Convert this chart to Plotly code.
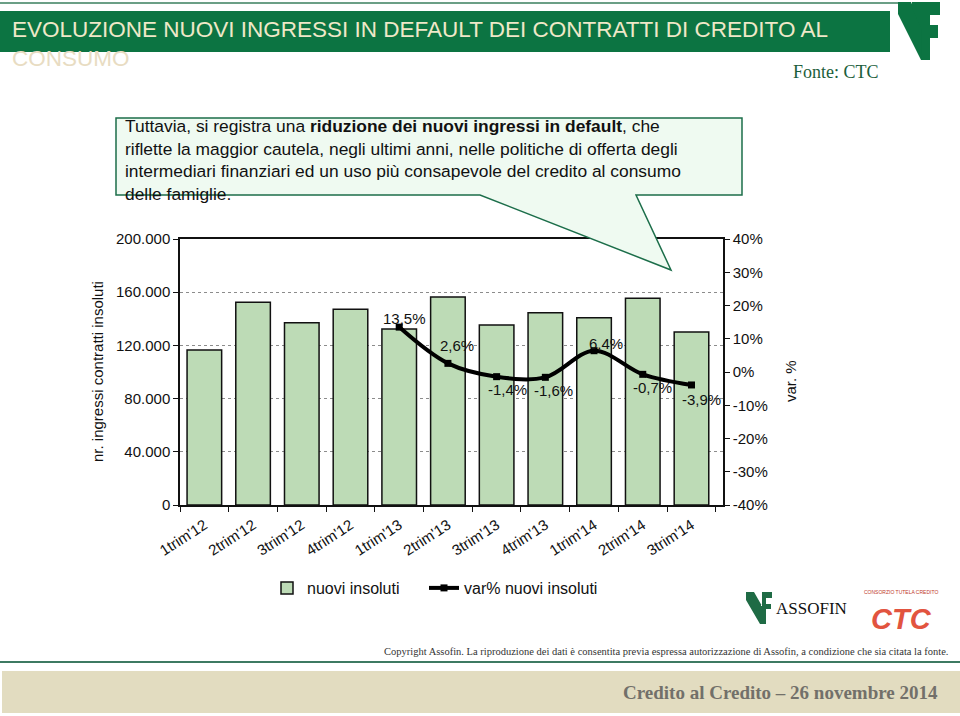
import plotly.graph_objects as go

# ---------------- data ----------------
categories = ["1trim'12", "2trim'12", "3trim'12", "4trim'12", "1trim'13", "2trim'13",
              "3trim'13", "4trim'13", "1trim'14", "2trim'14", "3trim'14"]
nuovi_insoluti = [116500, 152400, 137100, 147100, 132300, 156400,
                  135300, 144600, 140800, 155400, 130100]
var_categories = ["1trim'13", "2trim'13", "3trim'13", "4trim'13", "1trim'14", "2trim'14", "3trim'14"]
var_pct = [13.5, 2.6, -1.4, -1.6, 6.4, -0.7, -3.9]
var_labels = ["13,5%", "2,6%", "-1,4%", "-1,6%", "6,4%", "-0,7%", "-3,9%"]
left_tickvals = [0, 40000, 80000, 120000, 160000, 200000]
left_ticktext = ["0", "40.000", "80.000", "120.000", "160.000", "200.000"]
right_tickvals = [-40, -30, -20, -10, 0, 10, 20, 30, 40]
right_ticktext = ["-40%", "-30%", "-20%", "-10%", "0%", "10%", "20%", "30%", "40%"]

# label offsets (pixels) relative to each point: style only
label_dx = [5, 9, 11, 8, 12, 10, 10]
label_dy = [9, 18, -13, -13, 7, -13, -15]

W, H = 960, 716
L, R, T, B = 180, 723, 239, 505  # plot area in pixels


def X(px):
    return (px - L) / (R - L)


def Y(py):
    return (B - py) / (B - T)


GREEN = "#0c7442"
fig = go.Figure()

fig.add_trace(go.Bar(
    x=categories, y=nuovi_insoluti, name="nuovi insoluti",
    marker=dict(color="#bddbb6", line=dict(color="#111111", width=1.5)),
    width=0.71, yaxis="y", legend="legend",
))
fig.add_trace(go.Scatter(
    x=var_categories, y=var_pct, name="var% nuovi insoluti", yaxis="y2",
    mode="lines+markers", legend="legend2",
    line=dict(color="#000000", width=4, shape="spline", smoothing=1.0),
    marker=dict(symbol="square", size=7, color="#000000"),
    cliponaxis=False,
))

shapes = []
annotations = []

for cat, v, lab, dx, dy in zip(var_categories, var_pct, var_labels, label_dx, label_dy):
    annotations.append(dict(xref="x", yref="y2", x=cat, y=v, text=lab, showarrow=False,
                            xanchor="center", yanchor="middle", xshift=dx, yshift=dy,
                            font=dict(family="Arial", size=15, color="#111111")))

# top line + title banner
shapes.append(dict(type="line", xref="paper", yref="paper", x0=X(0), x1=X(898), y0=Y(3), y1=Y(3),
                   line=dict(color="#3a7f5e", width=1.5), layer="above"))
shapes.append(dict(type="rect", xref="paper", yref="paper", x0=X(0), x1=X(890), y0=Y(11), y1=Y(52),
                   fillcolor=GREEN, line=dict(width=0), layer="above"))
annotations.append(dict(xref="paper", yref="paper", x=X(10), y=Y(30), xanchor="left", yanchor="middle",
                        text="EVOLUZIONE NUOVI INGRESSI IN DEFAULT DEI CONTRATTI DI CREDITO AL",
                        showarrow=False, font=dict(family="Arial", size=22.5, color="#efe8c8")))
annotations.append(dict(xref="paper", yref="paper", x=X(10), y=Y(58), xanchor="left", yanchor="middle",
                        text="CONSUMO", showarrow=False,
                        font=dict(family="Arial", size=22.5, color="#e8dcc2")))
annotations.append(dict(xref="paper", yref="paper", x=X(881), y=Y(72), xanchor="right", yanchor="middle",
                        text="Fonte: CTC", showarrow=False,
                        font=dict(family="Liberation Serif, Times New Roman, serif", size=18, color="#1b5e3b")))


def path(pts):
    return "M " + " L ".join(f"{X(a):.5f},{Y(b):.5f}" for a, b in pts) + " Z"


# top-right logo (stylised)
shapes.append(dict(type="path", xref="paper", yref="paper", layer="above",
                   path=path([(898, 2), (911, 2), (929, 44), (929, 60), (921, 60), (898, 14)]),
                   fillcolor=GREEN, line=dict(width=0)))
shapes.append(dict(type="path", xref="paper", yref="paper", layer="above",
                   path=path([(912, 2), (940, 2), (940, 15), (930, 15), (930, 25), (938, 25),
                              (938, 38), (930, 38), (930, 60), (922, 60), (922, 30), (912, 8)]),
                   fillcolor=GREEN, line=dict(width=0)))

# callout box with pointer
shapes.append(dict(type="path", xref="paper", yref="paper", layer="above",
                   path=path([(116, 118), (742, 118), (742, 195), (636, 195), (671, 270),
                              (480, 195), (116, 195)]),
                   fillcolor="#effaf1", line=dict(color="#1c6e4a", width=1.5)))
annotations.append(dict(
    xref="paper", yref="paper", x=X(123), y=Y(114), xanchor="left", yanchor="top", align="left",
    showarrow=False, font=dict(family="Arial", size=17.4, color="#111111"),
    text=("Tuttavia, si registra una <b>riduzione dei nuovi ingressi in default</b>, che<br>"
          "riflette la maggior cautela, negli ultimi anni, nelle politiche di offerta degli<br>"
          "intermediari finanziari ed un uso più consapevole del credito al consumo<br>"
          "delle famiglie.")))

# axis titles
annotations.append(dict(xref="paper", yref="paper", x=X(97), y=Y(372), textangle=-90,
                        xanchor="center", yanchor="middle",
                        text="nr. ingressi contratti insoluti", showarrow=False,
                        font=dict(family="Arial", size=15, color="#111111")))
annotations.append(dict(xref="paper", yref="paper", x=X(790), y=Y(381), textangle=-90,
                        xanchor="center", yanchor="middle",
                        text="var. %", showarrow=False,
                        font=dict(family="Arial", size=15, color="#111111")))

# bottom logos
shapes.append(dict(type="path", xref="paper", yref="paper", layer="above",
                   path=path([(746, 592), (754, 592), (762, 606), (762, 592), (772, 592), (772, 598),
                              (766, 598), (766, 604), (771, 604), (771, 609), (766, 609), (766, 624),
                              (760, 624), (746, 600)]),
                   fillcolor="#1f6b45", line=dict(width=0)))
annotations.append(dict(xref="paper", yref="paper", x=X(774), y=Y(608), xanchor="left", yanchor="middle",
                        text="ASSOFIN", showarrow=False,
                        font=dict(family="Liberation Serif, Times New Roman, serif", size=17, color="#111111")))
annotations.append(dict(xref="paper", yref="paper", x=X(901), y=Y(619), xanchor="center", yanchor="middle",
                        text="<i><b>CTC</b></i>", showarrow=False,
                        font=dict(family="Arial", size=29, color="#e2543f")))
annotations.append(dict(xref="paper", yref="paper", x=X(901), y=Y(592), xanchor="center", yanchor="middle",
                        text="CONSORZIO TUTELA CREDITO", showarrow=False,
                        font=dict(family="Arial", size=5, color="#c0392b")))

# footer
annotations.append(dict(xref="paper", yref="paper", x=X(950), y=Y(651), xanchor="right", yanchor="middle",
                        text=("Copyright Assofin. La riproduzione dei dati è consentita previa espressa "
                              "autorizzazione di Assofin, a condizione che sia citata la fonte."),
                        showarrow=False,
                        font=dict(family="Liberation Serif, Times New Roman, serif", size=10.5, color="#333333")))
shapes.append(dict(type="line", xref="paper", yref="paper", x0=X(0), x1=X(960), y0=Y(662), y1=Y(662),
                   line=dict(color="#3e7a62", width=2), layer="above"))
shapes.append(dict(type="rect", xref="paper", yref="paper", x0=X(2), x1=X(960), y0=Y(671), y1=Y(713),
                   fillcolor="#e2dcc0", line=dict(width=0), layer="below"))
annotations.append(dict(xref="paper", yref="paper", x=X(940), y=Y(692), xanchor="right", yanchor="middle",
                        text="<b>Credito al Credito – 26 novembre 2014</b>", showarrow=False,
                        font=dict(family="Liberation Serif, Times New Roman, serif", size=19, color="#72706a")))

legend_font = dict(family="Arial", size=16, color="#111111")
fig.update_layout(
    width=W, height=H, autosize=False,
    margin=dict(l=L, r=W - R, t=T, b=H - B, pad=0, autoexpand=False),
    paper_bgcolor="white", plot_bgcolor="white",
    font=dict(family="Arial", size=15, color="#111111"),
    showlegend=True,
    legend=dict(orientation="h", x=X(267), y=Y(588), xanchor="left", yanchor="middle",
                font=legend_font, bgcolor="rgba(0,0,0,0)"),
    legend2=dict(orientation="h", x=X(424), y=Y(588), xanchor="left", yanchor="middle",
                 font=legend_font, bgcolor="rgba(0,0,0,0)"),
    xaxis=dict(type="category", categoryorder="array", categoryarray=categories,
               showline=True, linecolor="#111111", linewidth=1.5, mirror=True,
               ticks="outside", tickson="boundaries", ticklen=5, tickcolor="#111111",
               tickangle=-33, tickfont=dict(size=15), ticklabelstandoff=4,
               showgrid=False, automargin=False),
    yaxis=dict(range=[0, 200000], tickvals=left_tickvals, ticktext=left_ticktext,
               showline=True, linecolor="#111111", linewidth=1.5, mirror=True,
               ticks="outside", ticklen=5, tickcolor="#111111",
               showgrid=True, gridcolor="#8c8c8c", griddash="dot", gridwidth=1,
               zeroline=False, automargin=False, tickfont=dict(size=15)),
    yaxis2=dict(range=[-40, 40], tickvals=right_tickvals, ticktext=right_ticktext,
                overlaying="y", side="right", showline=True, linecolor="#111111", linewidth=1.5,
                ticks="outside", ticklen=5, tickcolor="#111111", showgrid=False, zeroline=False,
                automargin=False, tickfont=dict(size=15)),
    shapes=shapes, annotations=annotations,
)

fig.write_html("out.html", config={"displayModeBar": False},
               post_script="document.body.style.margin='0';document.body.style.overflow='hidden';")
